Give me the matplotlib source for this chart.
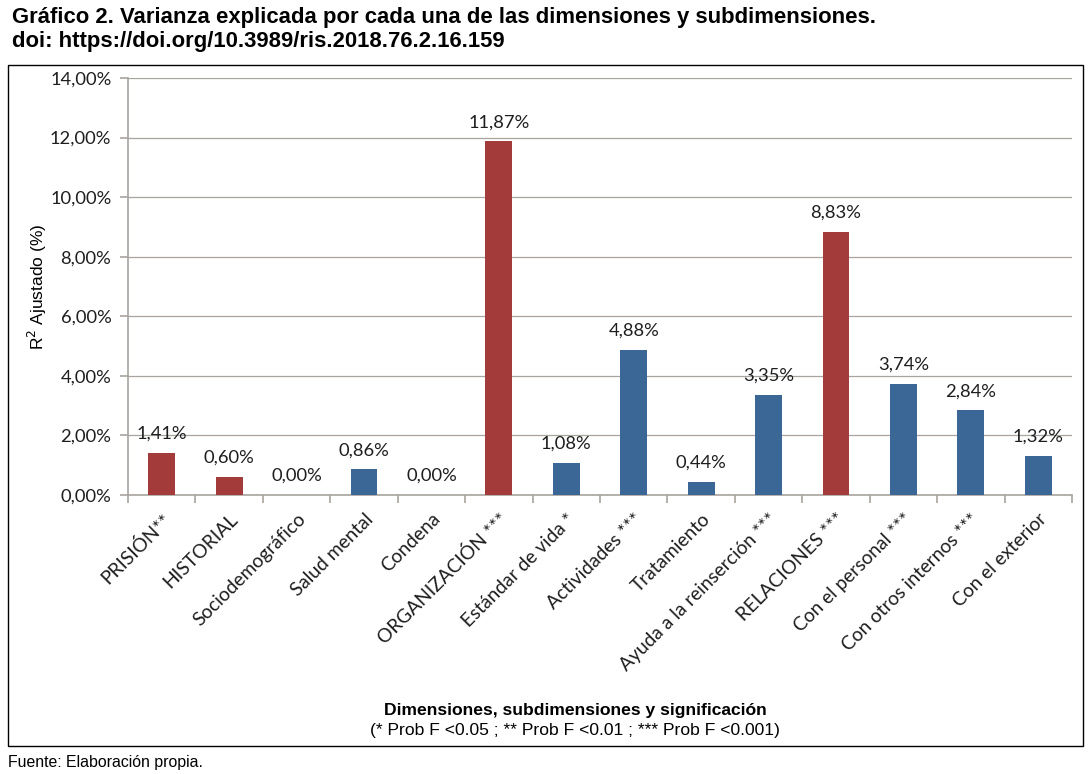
import matplotlib
matplotlib.use("Agg")
import matplotlib.pyplot as plt
from matplotlib.patches import Rectangle
from matplotlib.ticker import FixedLocator

categories = ["PRISIÓN**", "HISTORIAL", "Sociodemográfico", "Salud mental", "Condena",
              "ORGANIZACIÓN ***", "Estándar de vida *", "Actividades ***", "Tratamiento",
              "Ayuda a la reinserción ***", "RELACIONES ***", "Con el personal ***",
              "Con otros internos ***", "Con el exterior"]
values = [1.41, 0.60, 0.00, 0.86, 0.00, 11.87, 1.08, 4.88, 0.44, 3.35, 8.83, 3.74, 2.84, 1.32]
is_dimension = [True, True, False, False, False, True, False, False, False, False, True, False, False, False]
yticks = [0, 2, 4, 6, 8, 10, 12, 14]

RED = "#A33B3A"
BLUE = "#3A6796"
GRID = "#A8A49F"
LBL_FONT = ["Lato", "DejaVu Sans"]
ARIAL = ["Liberation Sans", "DejaVu Sans"]
TXT = "#1E1E1E"

W, H = 1092, 774
fig = plt.figure(figsize=(W / 100, H / 100), dpi=100)
ax = fig.add_axes([128 / W, 1 - 495 / H, (1072 - 128) / W, (495 - 78) / H])

x = list(range(len(categories)))
colors = [RED if d else BLUE for d in is_dimension]
bars = ax.bar(x, values, width=0.4, color=colors, zorder=3)

ax.set_xlim(-0.5, len(categories) - 0.5)
ax.set_ylim(0, 14)
ax.set_yticks(yticks)
ax.set_yticklabels([f"{v:.2f}".replace(".", ",") + "%" for v in yticks],
                   fontsize=13.2, family=LBL_FONT, color=TXT)
ax.yaxis.grid(True, color=GRID, linewidth=0.9, zorder=0)
ax.set_axisbelow(True)

ax.set_xticks(x)
ax.set_xticklabels(categories, rotation=45, ha="right", rotation_mode="anchor",
                   fontsize=13.8, family=LBL_FONT, color=TXT)
ax.tick_params(axis="x", which="major", length=0, pad=11)
ax.xaxis.set_minor_locator(FixedLocator([i - 0.5 for i in range(len(categories) + 1)]))
ax.tick_params(axis="x", which="minor", length=6, width=1.2, color=GRID)
ax.tick_params(axis="y", length=6, width=1.2, color=GRID, pad=6)

for s in ["top", "right"]:
    ax.spines[s].set_visible(False)
for s in ["left", "bottom"]:
    ax.spines[s].set_color(GRID)
    ax.spines[s].set_linewidth(1.2)

for b, v in zip(bars, values):
    ax.annotate(f"{v:.2f}".replace(".", ",") + "%", (b.get_x() + b.get_width() / 2, v),
                xytext=(0, 8), textcoords="offset points", ha="center", va="bottom",
                fontsize=13.2, family=LBL_FONT, color=TXT, zorder=4)

ax.set_ylabel("R$^2$ Ajustado (%)", fontsize=12.5, family=ARIAL, labelpad=1)

fig.text(12 / W, 1 - 18 / H,
         "Gráfico 2. Varianza explicada por cada una de las dimensiones y subdimensiones.",
         fontsize=15.9, fontweight="bold", family=ARIAL, va="center", ha="left")
fig.text(12 / W, 1 - 42 / H, "doi: https://doi.org/10.3989/ris.2018.76.2.16.159",
         fontsize=15.9, fontweight="bold", family=ARIAL, va="center", ha="left")

fig.text(575 / W, 1 - 711 / H, "Dimensiones, subdimensiones y significación",
         fontsize=12.6, fontweight="bold", family=ARIAL, ha="center", va="center")
fig.text(575 / W, 1 - 731 / H, "(* Prob F <0.05 ; ** Prob F <0.01 ; *** Prob F <0.001)",
         fontsize=12.6, family=ARIAL, ha="center", va="center")
fig.text(8 / W, 1 - 762 / H, "Fuente: Elaboración propia.",
         fontsize=11.4, family=ARIAL, ha="left", va="center")

fig.patches.append(Rectangle((8 / W, 1 - 746 / H), (1083 - 8) / W, (746 - 65) / H,
                             transform=fig.transFigure, fill=False, edgecolor="black",
                             linewidth=1.0))

fig.savefig("out.png", dpi=100)
